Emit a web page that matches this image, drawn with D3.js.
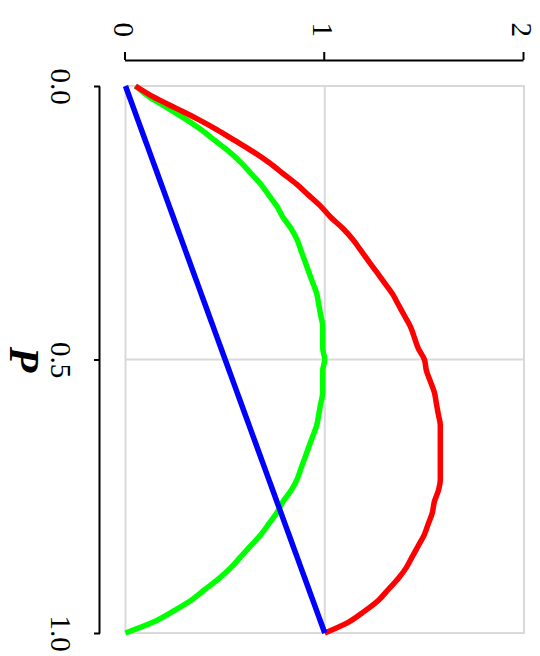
<!DOCTYPE html>
<html>
<head>
<meta charset="utf-8">
<script src="https://cdn.jsdelivr.net/npm/d3@7/dist/d3.min.js"></script>
<style>
  html, body { margin: 0; padding: 0; background: #ffffff; }
  svg { display: block; }
  .tick text { font-family: "Liberation Serif", "Times New Roman", serif; font-size: 29px; fill: #000; }
</style>
</head>
<body>
<svg id="chart" width="540" height="656"></svg>
<script>
// Probability grid
const pValues = [0.00,0.02,0.04,0.06,0.08,0.10,0.12,0.14,0.16,0.18,0.20,0.22,0.24,0.26,0.28,0.30,0.32,0.34,0.36,0.38,0.40,0.42,0.44,0.46,0.48,0.50,0.52,0.54,0.56,0.58,0.60,0.62,0.64,0.66,0.68,0.70,0.72,0.74,0.76,0.78,0.80,0.82,0.84,0.86,0.88,0.90,0.92,0.94,0.96,0.98,1.00];

// Series values on the grid above
const blueValues = [0.00,0.02,0.04,0.06,0.08,0.10,0.12,0.14,0.16,0.18,0.20,0.22,0.24,0.26,0.28,0.30,0.32,0.34,0.36,0.38,0.40,0.42,0.44,0.46,0.48,0.50,0.52,0.54,0.56,0.58,0.60,0.62,0.64,0.66,0.68,0.70,0.72,0.74,0.76,0.78,0.80,0.82,0.84,0.86,0.88,0.90,0.92,0.94,0.96,0.98,1.00];
const greenValues = [0.05,0.12,0.21,0.30,0.38,0.45,0.52,0.58,0.63,0.68,0.72,0.76,0.79,0.83,0.86,0.88,0.90,0.92,0.94,0.96,0.97,0.98,0.99,0.99,0.99,1.00,0.99,0.99,0.99,0.98,0.97,0.96,0.94,0.92,0.90,0.88,0.86,0.83,0.79,0.76,0.72,0.68,0.63,0.58,0.53,0.47,0.40,0.33,0.24,0.14,0.00];
const redValues = [0.05,0.14,0.25,0.36,0.46,0.55,0.64,0.72,0.79,0.86,0.92,0.98,1.03,1.09,1.14,1.18,1.22,1.26,1.30,1.34,1.37,1.40,1.43,1.45,1.47,1.50,1.51,1.53,1.55,1.56,1.57,1.58,1.58,1.58,1.58,1.58,1.58,1.57,1.55,1.54,1.52,1.50,1.47,1.44,1.41,1.37,1.32,1.27,1.20,1.12,1.00];

// Tick labels
const pTicks = [0, 0.5, 1];
const valueTicks = [0, 1, 2];
const axisTitle = "P";

const svg = d3.select("#chart");

// The chart is laid out in its own frame (656 wide, 540 tall) and turned a quarter turn clockwise.
const g = svg.append("g").attr("transform", "translate(540,0) rotate(90)");

const x = d3.scaleLinear().domain([0, 1]).range([86, 633]);
const y = d3.scaleLinear().domain([0, 2]).range([414.5, 16]);

// Plot frame and grid
const gridColor = "#d9d9d9";
g.append("rect")
  .attr("x", x(0)).attr("y", y(2))
  .attr("width", x(1) - x(0)).attr("height", y(0) - y(2))
  .attr("fill", "none").attr("stroke", gridColor).attr("stroke-width", 2);
g.append("line")
  .attr("x1", x(0.5)).attr("x2", x(0.5)).attr("y1", y(0)).attr("y2", y(2))
  .attr("stroke", gridColor).attr("stroke-width", 2);
g.append("line")
  .attr("x1", x(0)).attr("x2", x(1)).attr("y1", y(1)).attr("y2", y(1))
  .attr("stroke", gridColor).attr("stroke-width", 2);

// Value axis
const yAxis = g.append("g")
  .attr("transform", "translate(60,0)")
  .call(d3.axisLeft(y).tickValues(valueTicks).tickFormat(d3.format("d"))
        .tickSize(8).tickSizeOuter(0).tickPadding(15));
yAxis.select(".domain").attr("stroke", "#000").attr("stroke-width", 2);
yAxis.selectAll(".tick line").attr("stroke", "#000").attr("stroke-width", 2);
yAxis.selectAll(".tick text").attr("dy", "0.38em");

// Probability axis
const xAxis = g.append("g")
  .attr("transform", "translate(0,440)")
  .call(d3.axisBottom(x).tickValues(pTicks).tickFormat(d3.format(".1f"))
        .tickSize(6).tickSizeOuter(0).tickPadding(22));
xAxis.select(".domain").attr("stroke", "#000").attr("stroke-width", 2);
xAxis.selectAll(".tick line").attr("stroke", "#000").attr("stroke-width", 2);

g.append("text")
  .attr("x", x(0.5)).attr("y", 530)
  .attr("text-anchor", "middle")
  .attr("font-family", "'Liberation Serif', 'Times New Roman', serif")
  .attr("font-weight", "bold").attr("font-style", "italic")
  .attr("font-size", 42)
  .text(axisTitle);

// Curves
const series = [
  { values: greenValues, color: "#00ff00" },
  { values: redValues, color: "#ff0000" },
  { values: blueValues, color: "#0000ff" }
];
const line = d3.line()
  .x((d, i) => x(pValues[i]))
  .y(d => y(d))
  .curve(d3.curveMonotoneX);

g.selectAll("path.series")
  .data(series)
  .join("path")
  .attr("class", "series")
  .attr("d", d => line(d.values))
  .attr("fill", "none")
  .attr("stroke", d => d.color)
  .attr("stroke-width", 5.5)
  .attr("stroke-linejoin", "round");
</script>
</body>
</html>
